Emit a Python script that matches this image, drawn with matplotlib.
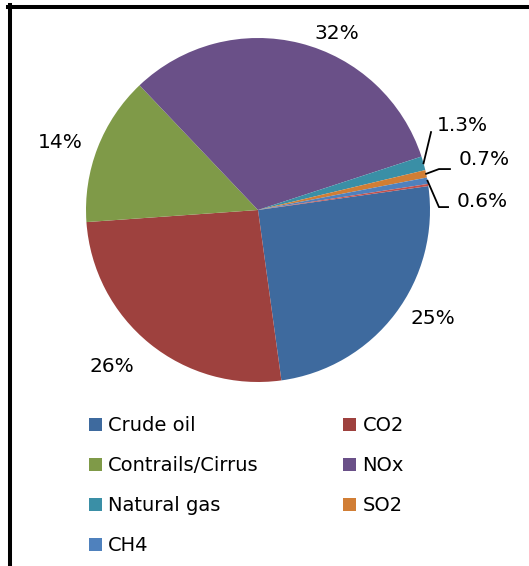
import numpy as np
import matplotlib
matplotlib.use("Agg")
import matplotlib.pyplot as plt
from matplotlib.patches import Patch
from matplotlib.lines import Line2D

# share of each source (%), in drawing order (clockwise)
sources = ['Crude oil', 'CO2', 'Contrails/Cirrus', 'NOx', 'Natural gas', 'SO2', 'CH4', '']
shares = [25, 26, 14, 32, 1.3, 0.7, 0.6, 0.2]
colors = ['#3E6A9E', '#9E413E', '#7F9A48', '#6A5088', '#3A8FA6', '#D17E35', '#4F81BD', '#C0504D']

# where each percentage label sits (pie radius = 1)
lbl_xy = [(1.017, -0.628), (-0.849, -0.907), (-1.151, 0.390), (0.459, 1.029),
          (1.186, 0.494), (1.314, 0.291), (1.302, 0.052), None]
# leader-line bend points for the small slices
leaders = {4: [(1.006, 0.453)],
           5: [(1.052, 0.238), (1.116, 0.238)],
           6: [(1.052, 0.017), (1.105, 0.017)]}

W, H = 529, 566
fig = plt.figure(figsize=(W / 100, H / 100), dpi=100)
ax = fig.add_axes([86 / W, (H - 382) / H, 344 / W, 344 / H])

start = 8.0
wedges, _ = ax.pie(shares, colors=colors, startangle=start, counterclock=False,
                   wedgeprops=dict(linewidth=0))
ax.set_xlim(-1, 1)
ax.set_ylim(-1, 1)
ax.set_aspect('auto')
ax.axis('off')

for i, w in enumerate(wedges):
    if lbl_xy[i] is None:
        continue
    ax.text(lbl_xy[i][0], lbl_xy[i][1], f"{shares[i]:g}%", ha='center', va='center',
            fontsize=14.5, color='black', clip_on=False)
    if i in leaders:
        mid = np.deg2rad((w.theta1 + w.theta2) / 2)
        pts = [(np.cos(mid), np.sin(mid))] + leaders[i]
        xs, ys = zip(*pts)
        ax.plot(xs, ys, color='black', lw=1.3, clip_on=False)

# legend, two columns (filled column by column)
order = [0, 2, 4, 6, 1, 3, 5]
handles = [Patch(facecolor=colors[i], edgecolor='none') for i in order]
fig.legend(handles, [sources[i] for i in order], ncol=2, loc='upper left',
           bbox_to_anchor=(89 / W, 1 - 416 / H), frameon=False, fontsize=14,
           handlelength=0.65, handleheight=0.65, handletextpad=0.33,
           labelspacing=1.08, columnspacing=4.36, borderpad=0, borderaxespad=0)

# outer frame (top and left edges only show)
fig.add_artist(Line2D([8 / W, 1], [1 - 7 / H, 1 - 7 / H], color='black', lw=2.9, transform=fig.transFigure))
fig.add_artist(Line2D([10 / W, 10 / W], [0, 1 - 5 / H], color='black', lw=2.9, transform=fig.transFigure))

fig.savefig('out.png', dpi=100, facecolor='white')
